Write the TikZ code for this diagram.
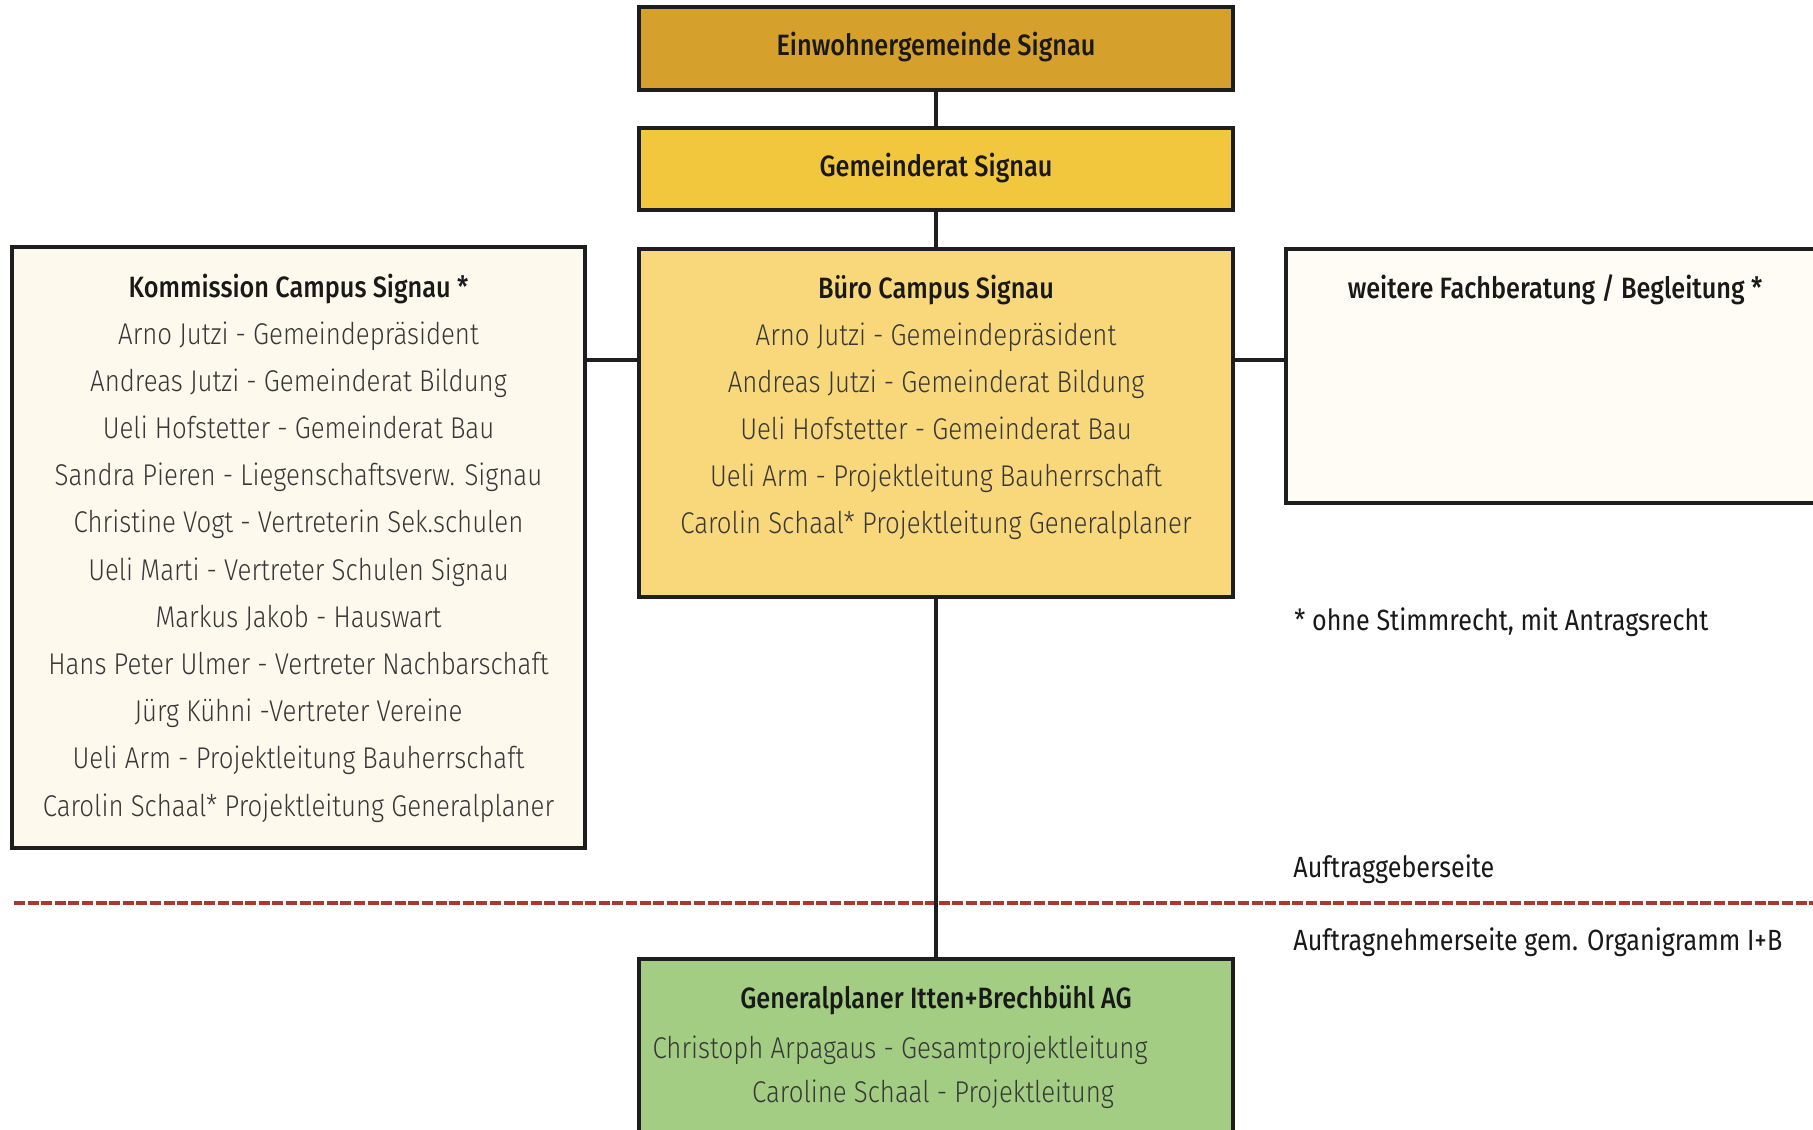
\documentclass[tikz,border=0pt]{standalone}
\usepackage{fontspec}
\setmainfont{Fira Sans}[UprightFont=* Light, BoldFont=* Medium, FakeStretch=0.86]
\newfontfamily\notefont{Fira Sans}[FakeStretch=0.86]
\definecolor{cEin}{RGB}{214,160,44}
\definecolor{cRat}{RGB}{242,199,62}
\definecolor{cBuero}{RGB}{248,216,122}
\definecolor{cKomm}{RGB}{253,249,236}
\definecolor{cWeit}{RGB}{254,252,244}
\definecolor{cGen}{RGB}{162,205,130}
\definecolor{boxline}{RGB}{30,30,30}
\definecolor{txtgray}{RGB}{55,55,55}
\definecolor{dashred}{RGB}{178,52,46}
\begin{document}
\begin{tikzpicture}[x=0.5pt,y=-0.5pt,
  box/.style={draw=boxline, line width=2pt, inner sep=0pt},
  head/.style={font=\bfseries\fontsize{14.7}{16}\selectfont, text=black!90, text height=10pt, text depth=3pt, inner sep=0pt},
  body/.style={font=\fontsize{15}{17}\selectfont, text=txtgray, text height=10pt, text depth=3pt, inner sep=0pt},
  note/.style={font=\notefont\fontsize{14.6}{16}\selectfont, text=black!90, text height=10pt, text depth=3pt, inner sep=0pt, anchor=west},
  conn/.style={draw=boxline, line width=1.6pt},
  sepline/.style={draw=dashred, line width=2.3pt, dash pattern=on 5.5pt off 1.3pt}]

\useasboundingbox (0,0) rectangle (1813,1129);
\clip (0,0) rectangle (1813,1129);
\fill[white] (0,0) rectangle (1813,1129);

% boxes
\node[box, fill=cEin, minimum width=297pt, minimum height=41.5pt, head] (ein) at (936,48.5) {Einwohnergemeinde Signau};
\node[box, fill=cRat, minimum width=297pt, minimum height=41pt, head] (rat) at (936,169) {Gemeinderat Signau};
\node[box, fill=cBuero, minimum width=297pt, minimum height=174pt] (buero) at (936,423) {};
\node[box, fill=cKomm, minimum width=286.5pt, minimum height=300.5pt] (komm) at (298.5,547.5) {};
\node[box, fill=cWeit, minimum width=277pt, minimum height=127pt] (weit) at (1563,376) {};
\node[box, fill=cGen, minimum width=297pt, minimum height=95.5pt] (gen) at (936,1054.5) {};

% separator
\coordinate (sepL) at (14,903);
\coordinate (sepR) at (1813,903);
\draw[sepline] (sepL) -- (sepR);

% connectors
\coordinate (lvl) at (0,360);
\draw[conn] (ein.south) -- (rat.north);
\draw[conn] (rat.south) -- (buero.north);
\draw[conn] (komm.east |- lvl) -- (buero.west |- lvl);
\draw[conn] (buero.east |- lvl) -- (weit.west |- lvl);
\draw[conn] (buero.south) -- (gen.north);

% Kommission text
\node[head] (kH) at (298.5,290) {Kommission Campus Signau *};
\foreach \t [count=\i] in {Arno Jutzi - Gemeindepräsident,
  Andreas Jutzi - Gemeinderat Bildung,
  Ueli Hofstetter - Gemeinderat Bau,
  Sandra Pieren - Liegenschaftsverw. Signau,
  Christine Vogt - Vertreterin Sek.schulen,
  Ueli Marti - Vertreter Schulen Signau,
  Markus Jakob - Hauswart,
  Hans Peter Ulmer - Vertreter Nachbarschaft,
  Jürg Kühni -Vertreter Vereine,
  Ueli Arm - Projektleitung Bauherrschaft,
  Carolin Schaal* Projektleitung Generalplaner}
  \node[body] (k\i) at (298.5,{337+47.2*(\i-1)}) {\t};

% Buero text
\node[head] (bH) at (936,291) {Büro Campus Signau};
\foreach \t [count=\i] in {Arno Jutzi - Gemeindepräsident,
  Andreas Jutzi - Gemeinderat Bildung,
  Ueli Hofstetter - Gemeinderat Bau,
  Ueli Arm - Projektleitung Bauherrschaft,
  Carolin Schaal* Projektleitung Generalplaner}
  \node[body] (b\i) at (936,{338+47.2*(\i-1)}) {\t};

% weitere
\node[head] (wH) at (1555,291) {weitere Fachberatung / Begleitung *};

% Generalplaner
\node[head] (gH) at (936,1001) {Generalplaner Itten+Brechbühl AG};
\node[body] (g1) at (900,1051) {Christoph Arpagaus - Gesamtprojektleitung};
\node[body] (g2) at (933,1095) {Caroline Schaal - Projektleitung};

% notes
\node[note] (n1) at (1294,623) {* ohne Stimmrecht, mit Antragsrecht};
\node[note] (n2) at (1293,870) {Auftraggeberseite};
\node[note] (n3) at (1293,943) {Auftragnehmerseite gem. Organigramm I+B};
\end{tikzpicture}
\end{document}
